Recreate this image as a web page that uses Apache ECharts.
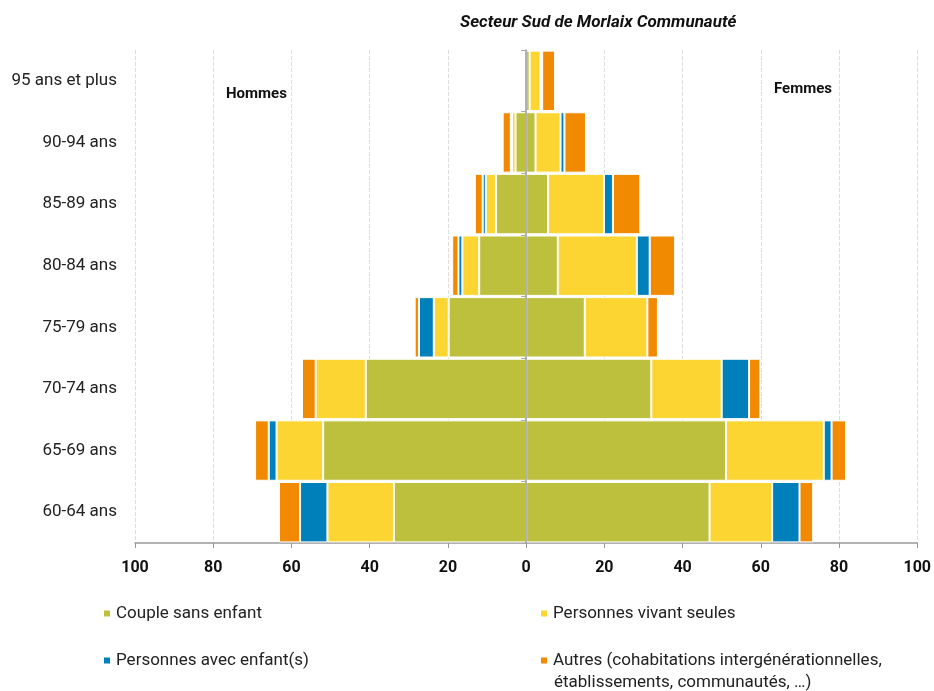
<!DOCTYPE html>
<html>
<head>
<meta charset="utf-8">
<script src="https://cdn.jsdelivr.net/npm/echarts@6/dist/echarts.min.js"></script>
<style>html,body{margin:0;padding:0;background:#fff}#c{width:934px;height:691px}</style>
</head>
<body>
<div id="c"></div>
<script>
const categories = ['60-64 ans','65-69 ans','70-74 ans','75-79 ans','80-84 ans','85-89 ans','90-94 ans','95 ans et plus'];
const xTicks = [-100,-80,-60,-40,-20,0,20,40,60,80,100];
const seriesNames = ['Couple sans enfant','Personnes vivant seules','Personnes avec enfant(s)','Autres (cohabitations intergénérationnelles,'];
const autresLine2 = 'établissements, communautés, …)';

const menCouple   = [33.8, 51.9, 41.0, 19.8, 12.0, 7.7, 2.7, 0];
const menSeules   = [17.0, 11.9, 12.8, 3.8, 4.3, 2.6, 0.9, 0];
const menEnfants  = [7.0, 2.0, 0, 3.8, 1.0, 0.8, 0.3, 0];
const menAutres   = [5.4, 3.5, 3.5, 1.1, 1.6, 2.0, 2.1, 0];

const womenCouple  = [46.9, 51.1, 32.0, 15.0, 8.1, 5.6, 2.4, 0.9];
const womenSeules  = [16.0, 25.0, 18.0, 16.0, 20.2, 14.3, 6.4, 2.8];
const womenEnfants = [7.0, 2.0, 7.0, 0, 3.3, 2.3, 1.0, 0.4];
const womenAutres  = [3.5, 3.7, 2.9, 2.7, 6.5, 7.0, 5.5, 3.3];

const colors = ['#BDC03D', '#FDD533', '#0080BB', '#F18A00'];
const FONT = 'Roboto';

const menSets = [menCouple, menSeules, menEnfants, menAutres];
const womenSets = [womenCouple, womenSeules, womenEnfants, womenAutres];

const series = [];
for (let i = 0; i < 4; i++) {
  series.push({
    name: seriesNames[i], type: 'bar', stack: 'all',
    data: menSets[i].map(v => -v),
    itemStyle: { color: colors[i], borderColor: '#fff', borderWidth: 1 },
    barCategoryGap: '2%'
  });
  series.push({
    name: seriesNames[i], type: 'bar', stack: 'all',
    data: womenSets[i],
    itemStyle: { color: colors[i], borderColor: '#fff', borderWidth: 1 },
    barCategoryGap: '2%'
  });
}

const chart = echarts.init(document.getElementById('c'), null, { renderer: 'canvas' });
chart.setOption({
  animation: false,
  color: colors,
  textStyle: { fontFamily: FONT },
  title: {
    text: 'Secteur Sud de Morlaix Communauté',
    left: 455, top: 9,
    textStyle: { fontFamily: FONT, fontStyle: 'italic', fontWeight: 'bold', fontSize: 17, color: '#111' }
  },
  grid: { left: 135, right: 16, top: 50, bottom: 148, containLabel: false },
  xAxis: {
    type: 'value', min: -100, max: 100, interval: 20,
    axisLine: { show: true, lineStyle: { color: '#999', width: 1.5 } },
    axisTick: { show: true, length: 5, lineStyle: { color: '#999' } },
    axisLabel: {
      margin: 17, fontFamily: FONT, fontSize: 16, fontWeight: 'bold', color: '#111',
      formatter: v => xTicks.includes(v) ? String(Math.abs(v)) : ''
    },
    splitLine: { show: true, lineStyle: { color: '#ddd', type: 'dashed' } }
  },
  yAxis: [
    {
      type: 'category', data: categories, position: 'left',
      axisLine: { show: false, onZero: false }, axisTick: { show: false },
      axisLabel: { margin: 18, fontFamily: FONT, fontSize: 17, color: '#222' }
    },
    {
      type: 'category', data: categories, position: 'left', z: 10,
      axisLine: { show: true, onZero: true, lineStyle: { color: '#999', width: 1.5 } },
      axisTick: { show: true, length: 5, lineStyle: { color: '#aaa' } },
      axisLabel: { show: false }
    }
  ],
  legend: [
    {
      data: [seriesNames[0], seriesNames[2]],
      orient: 'vertical', left: 102, top: 605, padding: 0,
      itemWidth: 8, itemHeight: 8, itemGap: 30, icon: 'rect',
      textStyle: { fontFamily: FONT, fontSize: 17, color: '#222' }
    },
    {
      data: [seriesNames[1], seriesNames[3]],
      orient: 'vertical', left: 539, top: 605, padding: 0,
      itemWidth: 8, itemHeight: 8, itemGap: 30, icon: 'rect',
      textStyle: { fontFamily: FONT, fontSize: 17, color: '#222' }
    }
  ],
  graphic: [
    { type: 'text', left: 226, top: 87, style: { text: 'Hommes', font: 'bold 15px Roboto', fill: '#111' } },
    { type: 'text', left: 774, top: 82, style: { text: 'Femmes', font: 'bold 15px Roboto', fill: '#111' } },
    { type: 'text', left: 554, top: 674, style: { text: autresLine2, font: '17px Roboto', fill: '#222' } }
  ],
  series: series
});
</script>
</body>
</html>
